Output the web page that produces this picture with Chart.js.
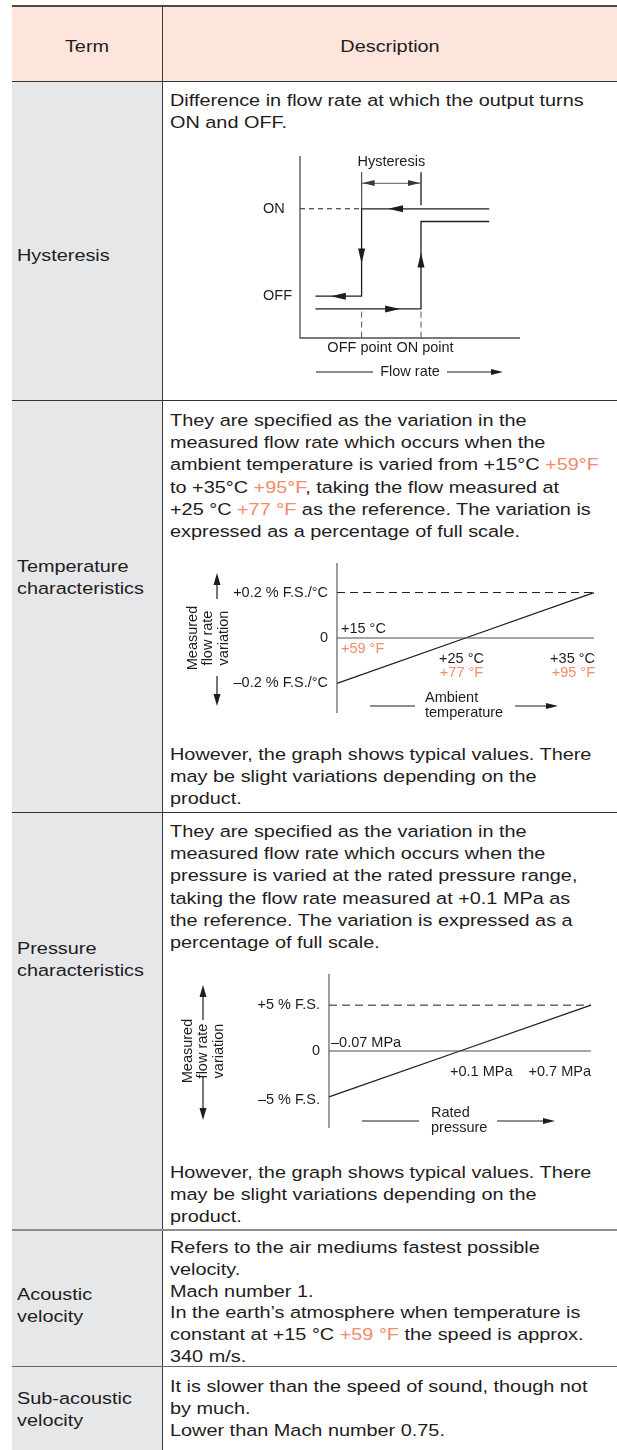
<!DOCTYPE html>
<html>
<head>
<meta charset="utf-8">
<script src="https://cdn.jsdelivr.net/npm/chart.js@4.4.1/dist/chart.umd.min.js"></script>
<style>
html, body { margin: 0; padding: 0; background: #fff; }
body { width: 617px; height: 1450px; overflow: hidden; position: relative;
       font-family: "Liberation Sans", Arial, sans-serif; color: #1f1c1d; }
.box { position: absolute; }
.txt { position: absolute; font-size: 16.3px; line-height: 22.2px; white-space: nowrap;
       transform: scaleX(1.22); transform-origin: 0 0; }
.ctr { text-align: center; transform-origin: 50% 0; }
.or { color: #f58a6c; }
canvas { position: absolute; }
</style>
</head>
<body>
<!-- table backgrounds and rules -->
<div class="box" style="left:12px;top:6px;width:605px;height:75px;background:#fde5dc"></div>
<div class="box" style="left:12px;top:81px;width:150px;height:1369px;background:#e6e7e9"></div>
<div class="box" style="left:12px;top:5px;width:605px;height:2px;background:#4a4a4a"></div>
<div class="box" style="left:162px;top:6px;width:1px;height:1444px;background:#3c3c3c"></div>
<div class="box" style="left:12px;top:81px;width:605px;height:1px;background:#333"></div>
<div class="box" style="left:12px;top:400px;width:605px;height:1px;background:#333"></div>
<div class="box" style="left:12px;top:812px;width:605px;height:1px;background:#333"></div>
<div class="box" style="left:12px;top:1229px;width:605px;height:2px;background:#8c8c8c"></div>
<div class="box" style="left:12px;top:1366px;width:605px;height:1px;background:#666"></div>

<!-- header -->
<div class="txt ctr" style="left:12px;width:150px;top:35px">Term</div>
<div class="txt ctr" style="left:163px;width:454px;top:35px">Description</div>

<!-- terms -->
<div class="txt" style="left:17px;top:244px">Hysteresis</div>
<div class="txt" style="left:17px;top:555px">Temperature<br>characteristics</div>
<div class="txt" style="left:17px;top:937px">Pressure<br>characteristics</div>
<div class="txt" style="left:17px;top:1283px">Acoustic<br>velocity</div>
<div class="txt" style="left:17px;top:1387px">Sub-acoustic<br>velocity</div>

<!-- descriptions -->
<div class="txt" style="left:170px;top:89px">Difference in flow rate at which the output turns<br>ON and OFF.</div>

<div class="txt" style="left:170px;top:409px">They are specified as the variation in the<br>measured flow rate which occurs when the<br>ambient temperature is varied from +15°C <span class="or">+59°F</span><br>to +35°C <span class="or">+95°F</span>, taking the flow measured at<br>+25 °C <span class="or">+77 °F</span> as the reference. The variation is<br>expressed as a percentage of full scale.</div>
<div class="txt" style="left:170px;top:743px">However, the graph shows typical values. There<br>may be slight variations depending on the<br>product.</div>

<div class="txt" style="left:170px;top:820px">They are specified as the variation in the<br>measured flow rate which occurs when the<br>pressure is varied at the rated pressure range,<br>taking the flow rate measured at +0.1 MPa as<br>the reference. The variation is expressed as a<br>percentage of full scale.</div>
<div class="txt" style="left:170px;top:1161px">However, the graph shows typical values. There<br>may be slight variations depending on the<br>product.</div>

<div class="txt" style="left:170px;top:1237px;line-height:21.8px">Refers to the air mediums fastest possible<br>velocity.<br>Mach number 1.<br>In the earth’s atmosphere when temperature is<br>constant at +15 °C <span class="or">+59 °F</span> the speed is approx.<br>340 m/s.</div>
<div class="txt" style="left:170px;top:1375px">It is slower than the speed of sound, though not<br>by much.<br>Lower than Mach number 0.75.</div>

<canvas id="hyst" width="300" height="255" style="left:240px;top:140px;width:300px;height:255px"></canvas>
<canvas id="temp" width="430" height="175" style="left:175px;top:555px;width:430px;height:175px"></canvas>
<canvas id="pres" width="430" height="180" style="left:175px;top:965px;width:430px;height:180px"></canvas>

<script>
// couleurs et police des schemas
const C_TEXT = '#1f1c1d';
const C_AXIS = '#4d4d4d';
const C_ORANGE = '#f58a6c';
const FONT = '14.5px "Liberation Sans", Arial, sans-serif';

// Hysteresis (debit schematique 0..10, sortie 0..10)
const hystFlow = [0.7, 2.8, 5.5, 8.6];        // debut, point OFF, point ON, fin
const hystOn = [7.1, 6.4];                     // niveau ON (descente, montee)
const hystOff = [2.3, 1.6];                    // niveau OFF (descente, montee)
const hystLevelLabels = ['ON', 'OFF'];
const hystPointLabels = ['OFF point', 'ON point'];
const hystArrows = [
    { x: 4.0, y: 7.1, dir: 'left' },
    { x: 2.8, y: 4.1, dir: 'down' },
    { x: 1.4, y: 2.3, dir: 'left' },
    { x: 4.55, y: 1.6, dir: 'right' },
    { x: 5.5, y: 4.7, dir: 'up' }
];

// Caracteristiques de temperature
const tempC = [15, 25, 35];
const tempCLabels = ['+15 °C', '+25 °C', '+35 °C'];
const tempFLabels = ['+59 °F', '+77 °F', '+95 °F'];
const tempVar = [-0.2, 0, 0.2];
const tempTicks = [0.2, 0, -0.2];
const tempTickLabels = ['+0.2 % F.S./°C', '0', '–0.2 % F.S./°C'];

// Caracteristiques de pression (position schematique 0..10)
const presPos = [0, 5, 10];
const presLabels = ['–0.07 MPa', '+0.1 MPa', '+0.7 MPa'];
const presVar = [-5, 0, 5];
const presTicks = [5, 0, -5];
const presTickLabels = ['+5 % F.S.', '0', '–5 % F.S.'];

const yTitle = ['Measured', 'flow rate', 'variation'];

// pointe de fleche pleine, sommet en (x, y)
function arrowHead(ctx, x, y, dir, len, half) {
    const d = { left: [1, 0], right: [-1, 0], up: [0, 1], down: [0, -1] }[dir];
    const bx = x + d[0] * len, by = y + d[1] * len;
    ctx.beginPath();
    ctx.moveTo(x, y);
    ctx.lineTo(bx - d[1] * half, by + d[0] * half);
    ctx.lineTo(bx + d[1] * half, by - d[0] * half);
    ctx.closePath();
    ctx.fill();
}

function hLine(ctx, x1, x2, y) {
    ctx.beginPath(); ctx.moveTo(x1, y); ctx.lineTo(x2, y); ctx.stroke();
}
function vLine(ctx, x, y1, y2) {
    ctx.beginPath(); ctx.moveTo(x, y1); ctx.lineTo(x, y2); ctx.stroke();
}

function line(points, opts) {
    return Object.assign({
        data: points, borderColor: C_TEXT, borderWidth: 1.3, pointRadius: 0,
        fill: false, tension: 0, clip: false
    }, opts || {});
}

function baseOptions(xMin, xMax, yMin, yMax, pad) {
    return {
        responsive: false, animation: false, devicePixelRatio: 1,
        layout: { padding: pad },
        plugins: { legend: { display: false }, tooltip: { enabled: false } },
        scales: {
            x: { type: 'linear', min: xMin, max: xMax, display: false },
            y: { type: 'linear', min: yMin, max: yMax, display: false }
        }
    };
}

// titre vertical a trois lignes avec fleches haut / bas
function drawYTitle(ctx, cx, cy, ax, up, down) {
    ctx.save();
    ctx.translate(cx, cy);
    ctx.rotate(-Math.PI / 2);
    ctx.textAlign = 'center';
    yTitle.forEach((t, i) => ctx.fillText(t, 0, (i - 1) * 15.5));
    ctx.restore();
    ctx.lineWidth = 1.2;
    vLine(ctx, ax, cy - up[0], cy - up[1] + 10);
    arrowHead(ctx, ax, cy - up[1], 'up', 12, 3.5);
    vLine(ctx, ax, cy + down[0], cy + down[1] - 10);
    arrowHead(ctx, ax, cy + down[1], 'down', 12, 3.5);
}

// axe horizontal: titre sur deux lignes avec trait et fleche
function drawXTitle(ctx, a, t1, t2, tx, l1, l2, r1, r2) {
    ctx.textAlign = 'left';
    ctx.fillText(t1, a.left + tx, a.bottom - 15.5);
    ctx.fillText(t2, a.left + tx, a.bottom);
    ctx.lineWidth = 1.2;
    const ly = a.bottom - 7;
    hLine(ctx, a.left + l1, a.left + l2, ly);
    hLine(ctx, a.left + r1, a.left + r2 - 10, ly);
    arrowHead(ctx, a.left + r2, ly, 'right', 12, 3);
}

// --- Hysteresis ---
const hystPlugin = {
    id: 'hystLabels',
    afterDatasetsDraw(chart) {
        const { ctx, chartArea: a, scales: { x, y } } = chart;
        ctx.save();
        ctx.font = FONT; ctx.fillStyle = C_TEXT; ctx.strokeStyle = C_TEXT;
        ctx.textBaseline = 'middle';
        hystArrows.forEach(p => arrowHead(ctx, x.getPixelForValue(p.x), y.getPixelForValue(p.y), p.dir, 15, 3.5));
        // fleche double "Hysteresis"
        const xOff = x.getPixelForValue(hystFlow[1]), xOn = x.getPixelForValue(hystFlow[2]);
        const yh = a.top + 27;
        ctx.fillStyle = '#3a3a3a';
        arrowHead(ctx, xOff + 1, yh, 'left', 12, 3);
        arrowHead(ctx, xOn - 1, yh, 'right', 12, 3);
        ctx.fillStyle = C_TEXT;
        ctx.textAlign = 'center';
        ctx.fillText('Hysteresis', (xOff + xOn) / 2, a.top + 6);
        ctx.textAlign = 'left';
        ctx.fillText(hystLevelLabels[0], a.left - 37, y.getPixelForValue(hystOn[0]));
        ctx.fillText(hystLevelLabels[1], a.left - 37, y.getPixelForValue(hystOff[0]));
        ctx.textAlign = 'center';
        ctx.fillText(hystPointLabels[0], xOff - 2, a.bottom + 10);
        ctx.fillText(hystPointLabels[1], xOn + 4, a.bottom + 10);
        ctx.fillText('Flow rate', a.left + 110, a.bottom + 34);
        ctx.lineWidth = 1.2;
        hLine(ctx, a.left + 16, a.left + 73, a.bottom + 34);
        hLine(ctx, a.left + 147, a.left + 193, a.bottom + 34);
        arrowHead(ctx, a.left + 203, a.bottom + 34, 'right', 12, 3);
        ctx.restore();
    }
};

new Chart(document.getElementById('hyst'), {
    type: 'line',
    data: {
        datasets: [
            line([{ x: 0, y: 10 }, { x: 0, y: 0 }, { x: 10, y: 0 }], { borderColor: C_AXIS }),
            line([{ x: hystFlow[3], y: hystOn[0] }, { x: hystFlow[1], y: hystOn[0] },
                  { x: hystFlow[1], y: hystOff[0] }, { x: hystFlow[0], y: hystOff[0] }]),
            line([{ x: hystFlow[0], y: hystOff[1] }, { x: hystFlow[2], y: hystOff[1] },
                  { x: hystFlow[2], y: hystOn[1] }, { x: hystFlow[3], y: hystOn[1] }]),
            line([{ x: 0, y: hystOn[0] }, { x: hystFlow[1], y: hystOn[0] }], { borderWidth: 1, borderDash: [5, 4] }),
            line([{ x: hystFlow[1], y: 9.1 }, { x: hystFlow[1], y: hystOn[0] }], { borderWidth: 1, borderColor: '#555' }),
            line([{ x: hystFlow[2], y: 9.1 }, { x: hystFlow[2], y: 7.3 }], { borderWidth: 1, borderColor: '#555' }),
            line([{ x: hystFlow[1], y: 8.5 }, { x: hystFlow[2], y: 8.5 }], { borderWidth: 1, borderColor: '#555' }),
            line([{ x: hystFlow[1], y: 1.45 }, { x: hystFlow[1], y: 0 }], { borderWidth: 1, borderDash: [6, 4], borderColor: '#555' }),
            line([{ x: hystFlow[2], y: 1.45 }, { x: hystFlow[2], y: 0 }], { borderWidth: 1, borderDash: [6, 4], borderColor: '#555' })
        ]
    },
    options: baseOptions(0, 10, 0, 10, { left: 60, top: 16, right: 20, bottom: 57 }),
    plugins: [hystPlugin]
});

// --- Temperature ---
const tempPlugin = {
    id: 'tempLabels',
    afterDatasetsDraw(chart) {
        const { ctx, chartArea: a, scales: { x, y } } = chart;
        const y0 = y.getPixelForValue(0);
        ctx.save();
        ctx.font = FONT; ctx.fillStyle = C_TEXT; ctx.strokeStyle = C_TEXT;
        ctx.textBaseline = 'middle';
        ctx.textAlign = 'right';
        tempTicks.forEach((v, i) => ctx.fillText(tempTickLabels[i], a.left - 9, y.getPixelForValue(v)));
        // etiquettes des temperatures
        const pos = [
            { align: 'left', px: a.left + 4, dy: [-9.5, 10.5] },
            { align: 'center', px: x.getPixelForValue(tempC[1]) - 4, dy: [20.5, 35] },
            { align: 'right', px: a.right + 1, dy: [20.5, 35] }
        ];
        pos.forEach((p, i) => {
            ctx.textAlign = p.align;
            ctx.fillStyle = C_TEXT;
            ctx.fillText(tempCLabels[i], p.px, y0 + p.dy[0]);
            ctx.fillStyle = C_ORANGE;
            ctx.fillText(tempFLabels[i], p.px, y0 + p.dy[1]);
        });
        ctx.fillStyle = C_TEXT;
        drawYTitle(ctx, a.left - 129, y0, a.left - 120, [39, 65], [38, 68]);
        drawXTitle(ctx, a, 'Ambient', 'temperature', 88, 33, 78, 178, 221);
        ctx.restore();
    }
};

new Chart(document.getElementById('temp'), {
    type: 'line',
    data: {
        datasets: [
            line([{ x: tempC[0], y: -0.33 }, { x: tempC[0], y: 0.33 }], { borderColor: C_AXIS, borderWidth: 1.1 }),
            line([{ x: tempC[0], y: 0 }, { x: tempC[2], y: 0 }], { borderColor: C_AXIS, borderWidth: 1.1 }),
            line([{ x: tempC[0], y: tempTicks[0] }, { x: tempC[2], y: tempTicks[0] }], { borderWidth: 1, borderDash: [8, 5] }),
            line(tempC.map((c, i) => ({ x: c, y: tempVar[i] })))
        ]
    },
    options: baseOptions(15, 35, -0.33, 0.33, { left: 162, top: 8, right: 11, bottom: 17 }),
    plugins: [tempPlugin]
});

// --- Pression ---
const presPlugin = {
    id: 'presLabels',
    afterDatasetsDraw(chart) {
        const { ctx, chartArea: a, scales: { x, y } } = chart;
        const y0 = y.getPixelForValue(0);
        ctx.save();
        ctx.font = FONT; ctx.fillStyle = C_TEXT; ctx.strokeStyle = C_TEXT;
        ctx.textBaseline = 'middle';
        ctx.textAlign = 'right';
        presTicks.forEach((v, i) => ctx.fillText(presTickLabels[i], a.left - 9, y.getPixelForValue(v) + (v < 0 ? 3 : 0)));
        ctx.textAlign = 'left';
        ctx.fillText(presLabels[0], a.left + 2, y0 - 8.5);
        ctx.fillText(presLabels[1], x.getPixelForValue(presPos[1]) - 10, y0 + 21);
        ctx.textAlign = 'right';
        ctx.fillText(presLabels[2], a.right, y0 + 21);
        drawYTitle(ctx, a.left - 126, y0, a.left - 126, [31, 66], [26, 69]);
        drawXTitle(ctx, a, 'Rated', 'pressure', 102, 33, 90, 168, 226);
        ctx.restore();
    }
};

new Chart(document.getElementById('pres'), {
    type: 'line',
    data: {
        datasets: [
            line([{ x: presPos[0], y: -8.4 }, { x: presPos[0], y: 8.4 }], { borderColor: C_AXIS, borderWidth: 1.1 }),
            line([{ x: presPos[0], y: 0 }, { x: presPos[2], y: 0 }], { borderColor: C_AXIS, borderWidth: 1.1 }),
            line([{ x: presPos[0], y: presTicks[0] }, { x: presPos[2], y: presTicks[0] }], { borderWidth: 1, borderDash: [8, 5] }),
            line(presPos.map((p, i) => ({ x: p, y: presVar[i] })))
        ]
    },
    options: baseOptions(0, 10, -8.4, 8.4, { left: 154, top: 9, right: 14, bottom: 17 }),
    plugins: [presPlugin]
});
</script>
</body>
</html>
